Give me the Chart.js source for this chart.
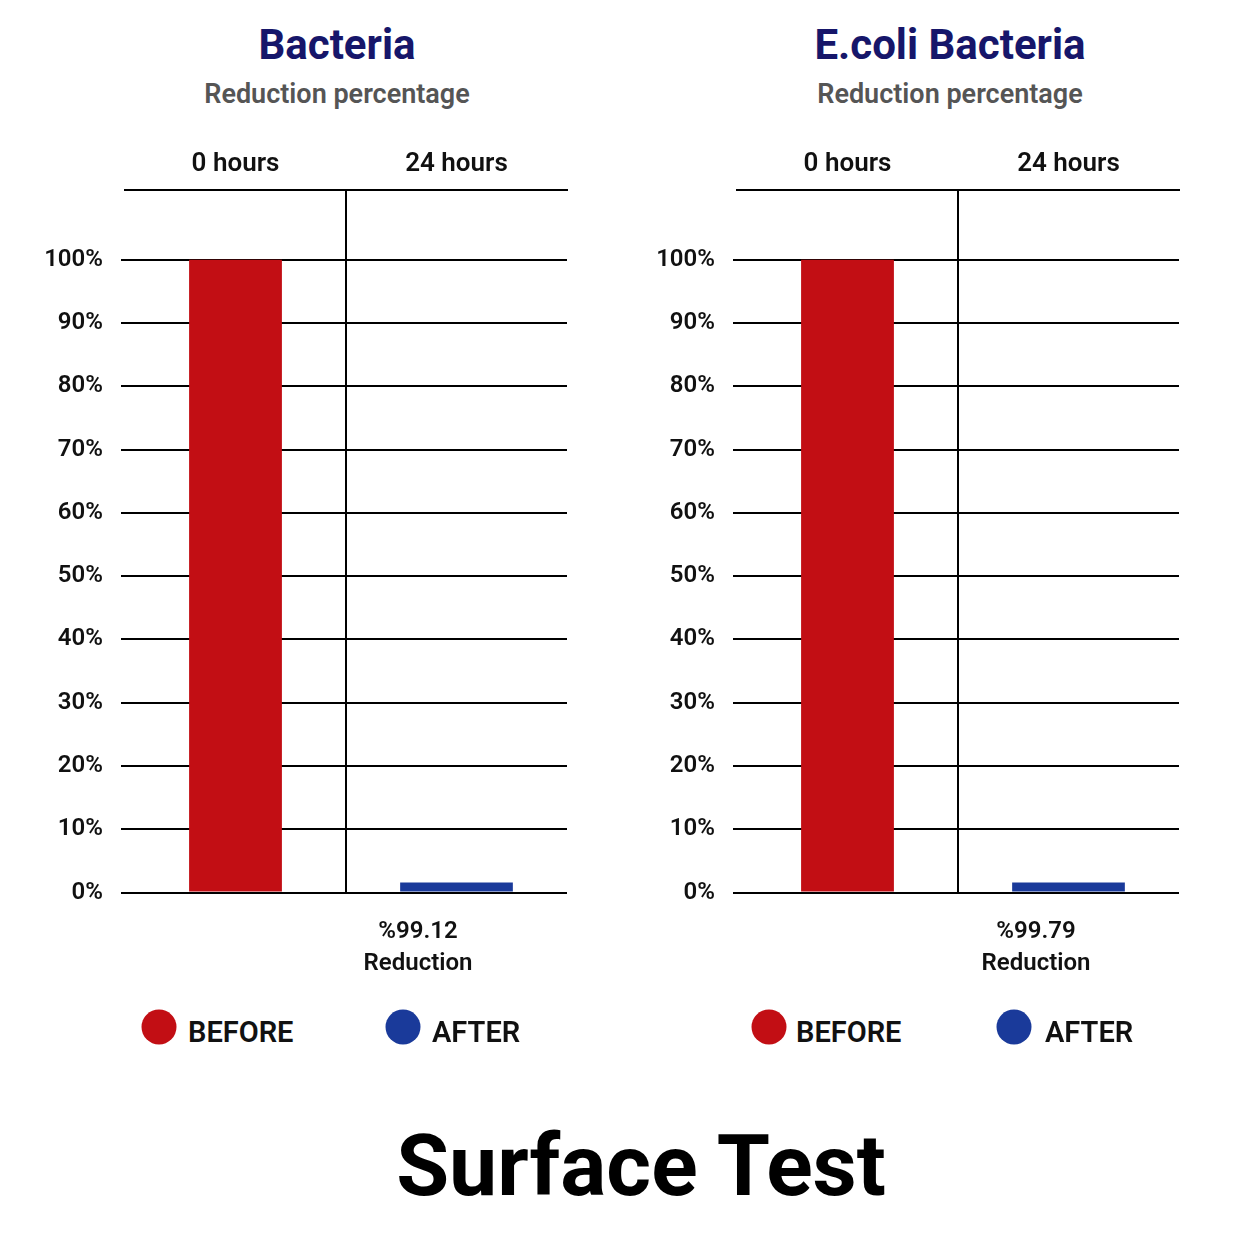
<!DOCTYPE html>
<html><head><meta charset="utf-8">
<script src="https://cdn.jsdelivr.net/npm/chart.js@4"></script>
<style>
body{margin:0;width:1254px;height:1254px;background:#fff;position:relative;font-family:Roboto,"DejaVu Sans",sans-serif;overflow:hidden}
.t{position:absolute;transform:translate(-50%,-50%);white-space:nowrap;font-weight:700}
.title{font-size:42px;color:#16166a}
.sub{font-size:27px;color:#555;font-weight:600}
.red{font-size:24px;color:#111;font-weight:600;text-align:center;line-height:32px}
.leg{position:absolute;font-size:29px;font-weight:600;color:#111;transform:translateY(-50%)}
.dot{position:absolute;width:35px;height:35px;border-radius:50%;transform:translate(-50%,-50%)}
canvas{position:absolute}
.wrap{position:absolute;top:130px;width:600px;height:795px}
</style></head><body>
<div class="t title" style="left:337px;top:44px">Bacteria</div>
<div class="t sub" style="left:337px;top:94px">Reduction percentage</div>
<div class="t title" style="left:950px;top:44px">E.coli Bacteria</div>
<div class="t sub" style="left:950px;top:94px">Reduction percentage</div>
<div class="wrap" style="left:0"><canvas id="c1"></canvas></div>
<div class="wrap" style="left:612px"><canvas id="c2"></canvas></div>
<div class="t red" style="left:418px;top:946px">%99.12<br>Reduction</div>
<div class="t red" style="left:1036px;top:946px">%99.79<br>Reduction</div>
<div class="dot" style="left:159px;top:1027px;background:#c20e14"></div><div class="leg" style="left:188px;top:1032px">BEFORE</div>
<div class="dot" style="left:403px;top:1027px;background:#1a3a9a"></div><div class="leg" style="left:432px;top:1032px">AFTER</div>
<div class="dot" style="left:769px;top:1027px;background:#c20e14"></div><div class="leg" style="left:796px;top:1032px">BEFORE</div>
<div class="dot" style="left:1014px;top:1027px;background:#1a3a9a"></div><div class="leg" style="left:1045px;top:1032px">AFTER</div>
<div class="t" style="left:641px;top:1165px;font-size:86px;color:#000">Surface Test</div>
<script>
const categories = ["0 hours", "24 hours"];
const seriesNames = ["BEFORE", "AFTER"];
const bacteriaBefore = [100, null];
const bacteriaAfter = [null, 1.6];
const ecoliBefore = [100, null];
const ecoliAfter = [null, 1.6];
const yTicks = [0,10,20,30,40,50,60,70,80,90,100];

function make(id, before, after){
  new Chart(document.getElementById(id), {
    type:'bar',
    data:{labels:categories, datasets:[
      {label:seriesNames[0], data:before, backgroundColor:'#c20e14', barPercentage:0.42, categoryPercentage:1},
      {label:seriesNames[1], data:after, backgroundColor:'#1a3a9a', barPercentage:0.51, categoryPercentage:1}
    ]},
    options:{
      responsive:true, maintainAspectRatio:false, animation:false,
      layout:{padding:{right:33,bottom:10,left:0,top:0}},
      plugins:{legend:{display:false},tooltip:{enabled:false}},
      datasets:{bar:{grouped:false}},
      scales:{
        x:{position:'top', offset:true,
          grid:{offset:true, lineWidth:2, color:c=>c.index===1?'#000':'rgba(0,0,0,0)', drawTicks:false},
          border:{display:true,color:'#000',width:2},
          ticks:{color:'#111',font:{family:'Roboto',size:26,weight:'600'},padding:10},
          afterFit:s=>{s.height=60;}
        },
        y:{min:0,max:111,
          afterBuildTicks:s=>{s.ticks=yTicks.map(v=>({value:v}));},
          grid:{lineWidth:2,color:'#000',tickLength:4},
          border:{display:false},
          ticks:{color:'#111',font:{family:'Roboto',size:24,weight:'600'},callback:v=>v+'%',padding:18},
          afterFit:s=>{s.width=125;}
        }
      }
    }
  });
}
make('c1', bacteriaBefore, bacteriaAfter);
make('c2', ecoliBefore, ecoliAfter);
</script>
</body></html>
